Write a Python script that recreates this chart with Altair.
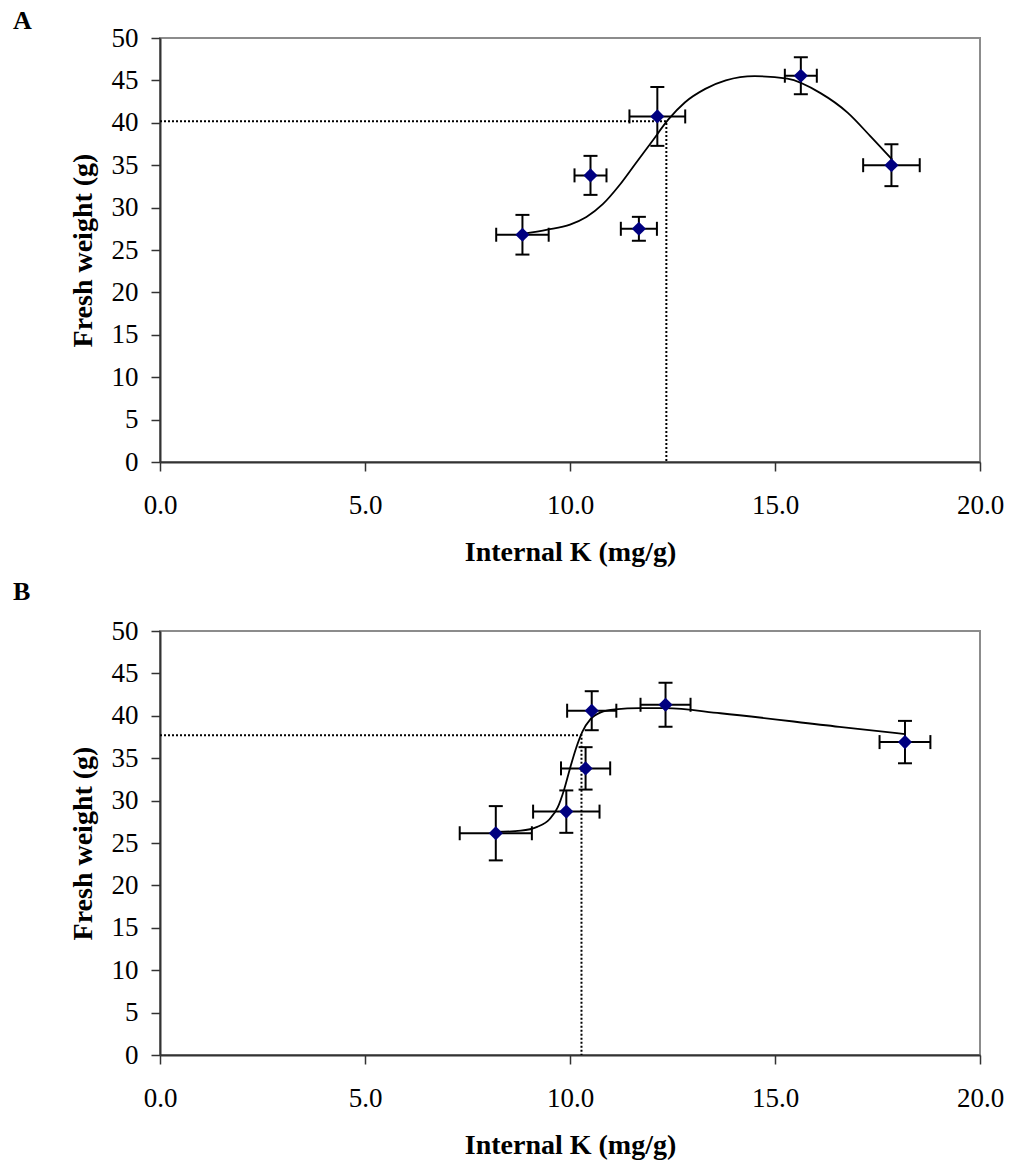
import altair as alt
import pandas as pd

FONT = "Liberation Serif"

# ---------------- Panel A data ----------------
a_x = [8.84, 10.50, 11.68, 12.13, 15.63, 17.84]
a_y = [26.8, 33.8, 27.5, 40.75, 45.55, 35.0]
a_xerr = [0.64, 0.39, 0.44, 0.68, 0.39, 0.69]
a_yerr = [2.34, 2.30, 1.41, 3.47, 2.18, 2.47]
a_curve_x = [8.84, 9.45, 10.0, 10.4, 10.8, 11.2, 11.6, 12.0, 12.4, 12.8,
             13.3, 13.8, 14.5, 15.3, 16.11, 16.77, 17.33, 17.86]
a_curve_y = [26.9, 27.4, 28.0, 28.9, 30.4, 32.6, 35.2, 37.8, 40.4, 42.4,
             44.0, 45.0, 45.5, 45.2, 43.5, 41.2, 38.4, 35.65]
a_ref_x = [0.0, 12.35, 12.35]
a_ref_y = [40.17, 40.17, 0.0]

# ---------------- Panel B data ----------------
b_x = [8.19, 9.91, 10.38, 10.53, 12.33, 18.17]
b_y = [26.15, 28.7, 33.8, 40.6, 41.3, 36.9]
b_xerr = [0.88, 0.81, 0.60, 0.60, 0.61, 0.62]
b_yerr = [3.2, 2.5, 2.5, 2.3, 2.6, 2.5]
b_curve_x = [8.19, 8.8, 9.2, 9.5, 9.7, 9.85, 10.0, 10.15, 10.3, 10.5,
             10.75, 11.1, 11.7, 12.33, 13.67, 16.57, 18.17]
b_curve_y = [26.3, 26.45, 26.9, 27.8, 29.2, 31.2, 33.8, 36.2, 38.1, 39.6,
             40.4, 40.75, 40.9, 40.9, 40.3, 38.7, 37.85]
b_ref_x = [0.0, 10.28, 10.28]
b_ref_y = [37.7, 37.7, 0.0]

x_ticks = [0, 5, 10, 15, 20]
y_ticks = list(range(0, 51, 5))
x_title = "Internal K (mg/g)"
y_title = "Fresh weight (g)"

W, H = 820, 424


def panel(label, label_y, xs, ys, xerr, yerr, cx, cy, rx, ry):
    pts = pd.DataFrame({"x": xs, "y": ys, "xerr": xerr, "yerr": yerr})
    curve = pd.DataFrame({"x": cx, "y": cy, "o": list(range(len(cx)))})
    ref = pd.DataFrame({"x": rx, "y": ry, "o": list(range(len(rx)))})

    xscale = alt.Scale(domain=[0, 20], nice=False, zero=False)
    yscale = alt.Scale(domain=[0, 50], nice=False, zero=False)
    xaxis = alt.Axis(values=x_ticks, format=".1f", title=x_title, grid=False,
                     labelFlush=False)
    yaxis = alt.Axis(values=y_ticks, title=y_title, grid=False, labelFlush=False)

    def X(f):
        return alt.X(f, type="quantitative", scale=xscale, axis=xaxis)

    def Y(f):
        return alt.Y(f, type="quantitative", scale=yscale, axis=yaxis)

    base = alt.Chart(pts).transform_calculate(
        xlo="datum.x - datum.xerr", xhi="datum.x + datum.xerr",
        ylo="datum.y - datum.yerr", yhi="datum.y + datum.yerr",
    )

    ref_line = alt.Chart(ref).mark_line(
        color="black", strokeDash=[2, 2], strokeWidth=2
    ).encode(x=X("x"), y=Y("y"), order="o:Q")

    curve_line = alt.Chart(curve).mark_line(
        color="black", strokeWidth=1.8, interpolate="monotone"
    ).encode(x=X("x"), y=Y("y"), order="o:Q")

    ybar = base.mark_rule(color="black", strokeWidth=2).encode(
        x=X("x"), y=Y("ylo"), y2="yhi:Q")
    xbar = base.mark_rule(color="black", strokeWidth=2).encode(
        x=X("xlo"), x2="xhi:Q", y=Y("y"))

    ycaps = base.transform_fold(["ylo", "yhi"], as_=["k", "v"]).mark_tick(
        orient="horizontal", size=14, thickness=2, color="black", opacity=1
    ).encode(x=X("x"), y=Y("v"))
    xcaps = base.transform_fold(["xlo", "xhi"], as_=["k", "v"]).mark_tick(
        orient="vertical", size=14, thickness=2, color="black", opacity=1
    ).encode(x=X("v"), y=Y("y"))

    dots = alt.Chart(pts).mark_point(
        shape="diamond", filled=True, size=200, color="#000080", opacity=1
    ).encode(x=X("x"), y=Y("y"))

    lab = alt.Chart(pd.DataFrame({"t": [label]})).mark_text(
        align="left", baseline="alphabetic", font=FONT, fontSize=26,
        fontWeight="bold", color="black"
    ).encode(x=alt.value(-147), y=alt.value(label_y), text="t:N")

    return alt.layer(ref_line, curve_line, ybar, xbar, ycaps, xcaps, dots, lab
                     ).properties(width=W, height=H)


chart_a = panel("A", -9, a_x, a_y, a_xerr, a_yerr, a_curve_x, a_curve_y, a_ref_x, a_ref_y)
chart_b = panel("B", -31, b_x, b_y, b_xerr, b_yerr, b_curve_x, b_curve_y, b_ref_x, b_ref_y)

chart = alt.vconcat(chart_a, chart_b, spacing=169, bounds="flush").properties(
    padding={"left": 12, "top": 7, "right": 8, "bottom": 4}
).configure_view(
    stroke="#8c8c8c", strokeWidth=2
).configure_axis(
    domainColor="#333333", domainWidth=2, tickColor="#333333", tickWidth=1.5,
    tickSize=9, labelFont=FONT, labelFontSize=27, labelColor="black",
    titleFont=FONT, titleFontSize=28, titleFontWeight="bold", titleColor="black",
).configure_axisX(
    labelPadding=21, titlePadding=20
).configure_axisY(
    labelPadding=13, titlePadding=14
)

chart.save("out.html", embed_options={"renderer": "svg", "actions": False})
